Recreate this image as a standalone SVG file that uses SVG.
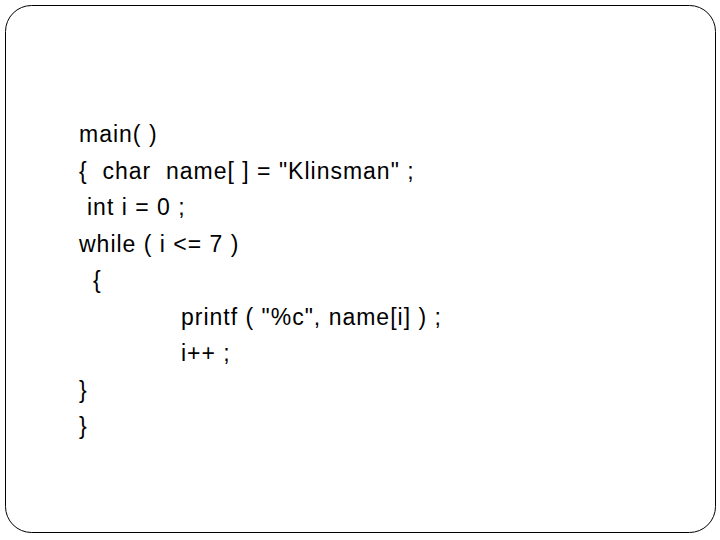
<svg xmlns="http://www.w3.org/2000/svg" width="720" height="540" viewBox="0 0 720 540">
<style>text{font-family:"Liberation Sans",Arial,sans-serif;font-size:23px;letter-spacing:1px;fill:#000}</style>
<rect width="720" height="540" fill="#fff"/>
<rect x="5.5" y="5.5" width="710" height="527" rx="26" fill="none" stroke="#000" stroke-width="1"/>
<g id="code">
<text x="79" y="142">main( )</text>
<text x="79" y="179" xml:space="preserve">{  char  name[ ] = "Klinsman" ;</text>
<text x="87" y="215">int  i = 0 ;</text>
<text x="79" y="252">while ( i &lt;= 7 )</text>
<text x="93" y="288">{</text>
<text x="181" y="325">printf ( "%c", name[i] ) ;</text>
<text x="181" y="361">i++ ;</text>
<text x="79" y="398">}</text>
<text x="79" y="434">}</text>
</g>
</svg>
